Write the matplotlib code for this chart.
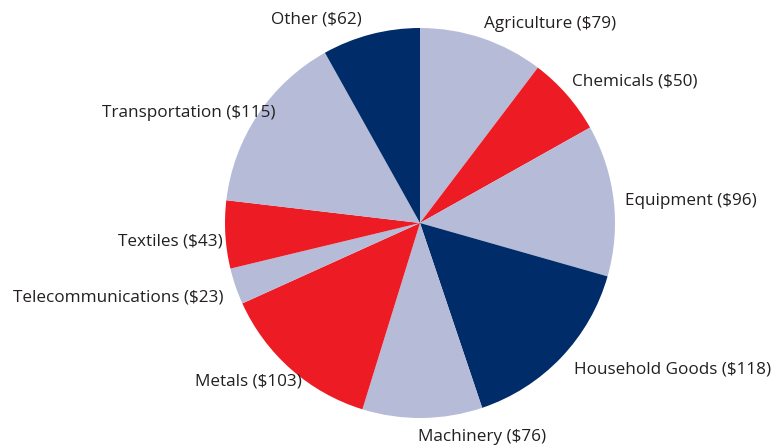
import matplotlib
matplotlib.use("Agg")
import matplotlib.pyplot as plt

categories = ["Agriculture", "Chemicals", "Equipment", "Household Goods", "Machinery",
              "Metals", "Telecommunications", "Textiles", "Transportation", "Other"]
values = [79, 50, 96, 118, 76, 103, 23, 43, 115, 62]

LIGHT = "#b6bbd8"
RED = "#ed1c24"
NAVY = "#002d6a"
colors = [LIGHT, RED, LIGHT, NAVY, LIGHT, RED, LIGHT, RED, LIGHT, NAVY]

labels = [f"{c} (${v})" for c, v in zip(categories, values)]

# label anchor positions in pixels (layout only), (x, y from top)
label_anchor_px = [(484, 24), (572, 82), (625, 201), (574, 370), (418, 437),
                   (302, 382), (224, 298), (223, 242), (276, 113), (362, 20)]

plt.rcParams['font.family'] = ['Open Sans', 'DejaVu Sans']

W, H = 773, 447
fig = plt.figure(figsize=(W / 100, H / 100), dpi=100)
ax = fig.add_axes([0, 0, 1, 1])
R = 195.0
cx, cy = 420.0, 224.0

wedges, texts = ax.pie(values, colors=colors, startangle=90, counterclock=False,
                       labels=labels, labeldistance=1.08, radius=1.0,
                       wedgeprops=dict(linewidth=0),
                       textprops=dict(fontsize=12.3, color="#231f20"))
ax.set_xlim(-cx / R, (W - cx) / R)
ax.set_ylim(-cy / R, (H - cy) / R)
ax.set_aspect("auto")
ax.axis("off")

for t, (px, py) in zip(texts, label_anchor_px):
    t.set_position(((px - cx) / R, (H - py - cy) / R))
    t.set_va("center")

fig.savefig("out.png", dpi=100)
